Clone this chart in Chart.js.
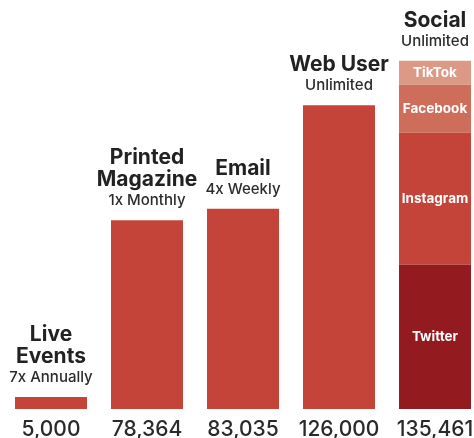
<!DOCTYPE html>
<html>
<head>
<meta charset="utf-8">
<script src="https://cdn.jsdelivr.net/npm/chart.js@4.4.1/dist/chart.umd.min.js"></script>
<style>
  html, body { margin: 0; padding: 0; background: #fff; overflow: hidden; }
  .chart-wrap { position: relative; width: 486px; height: 438px; }
</style>
</head>
<body>
<div class="chart-wrap"><canvas id="chart"></canvas></div>
<script>
const categories = ['Live Events', 'Printed Magazine', 'Email', 'Web User', 'Social'];
const titleLines = [['Live', 'Events'], ['Printed', 'Magazine'], ['Email'], ['Web User'], ['Social']];
const frequencies = ['7x Annually', '1x Monthly', '4x Weekly', 'Unlimited', 'Unlimited'];
const audience = [5000, 78364, 83035, 126000, null];
const valueLabels = ['5,000', '78,364', '83,035', '126,000', '135,461'];

// social bar split, bottom to top
const socialChannels = ['Twitter', 'Instagram', 'Facebook', 'TikTok'];
const socialValues = [59800, 54900, 19800, 10000];
const socialColors = ['#931a1f', '#c5443a', '#cf6d5b', '#dc9a86'];

const SOCIAL = categories.indexOf('Social');
const FONT = '"Inter", sans-serif';

const datasets = [
  {label: 'Audience', data: audience, backgroundColor: '#c5443a'},
  ...socialChannels.map((name, i) => ({
    label: name,
    data: categories.map((c, j) => (j === SOCIAL ? socialValues[i] : null)),
    backgroundColor: socialColors[i],
  })),
];

const barLabels = {
  id: 'barLabels',
  afterDatasetsDraw(chart) {
    const {ctx} = chart;
    ctx.save();
    ctx.textAlign = 'center';
    ctx.textBaseline = 'alphabetic';

    categories.forEach((cat, i) => {
      let top = null;
      let x = null;
      chart.data.datasets.forEach((ds, d) => {
        if (ds.data[i] == null) return;
        const el = chart.getDatasetMeta(d).data[i];
        if (top === null || el.y < top) {
          top = el.y;
          x = el.x;
        }
      });

      // total under the bar
      ctx.fillStyle = '#2a2a2a';
      ctx.font = '500 21px ' + FONT;
      ctx.fillText(valueLabels[i], x, chart.chartArea.bottom + 27);

      let y = top - 15;
      ctx.fillStyle = '#2b2b2b';
      ctx.font = '500 15px ' + FONT;
      ctx.fillText(frequencies[i], x, y);
      y -= 19;
      ctx.fillStyle = '#222222';
      ctx.font = 'bold 21px ' + FONT;
      const lines = titleLines[i];
      for (let k = lines.length - 1; k >= 0; k--) {
        ctx.fillText(lines[k], x, y);
        y -= 22;
      }
    });

    // channel names inside the social bar
    ctx.fillStyle = '#ffffff';
    ctx.font = 'bold 13.5px ' + FONT;
    ctx.textBaseline = 'middle';
    socialChannels.forEach((name, s) => {
      const el = chart.getDatasetMeta(s + 1).data[SOCIAL];
      ctx.fillText(name, el.x, (el.y + el.base) / 2);
    });
    ctx.restore();
  },
};

function draw() {
  new Chart(document.getElementById('chart'), {
    type: 'bar',
    data: {labels: categories, datasets},
    options: {
      responsive: true,
      maintainAspectRatio: false,
      animation: false,
      layout: {padding: {left: 3, right: 3, top: 0, bottom: 29}},
      datasets: {
        bar: {categoryPercentage: 1, barPercentage: 0.75, borderWidth: 0},
      },
      plugins: {
        legend: {display: false},
        tooltip: {enabled: false},
      },
      scales: {
        x: {
          stacked: true,
          display: false,
        },
        y: {
          stacked: true,
          display: false,
          min: 0,
          max: 169700,
        },
      },
    },
    plugins: [barLabels],
  });
}

Promise.all([
  document.fonts.load('bold 21px "Inter"'),
  document.fonts.load('500 15px "Inter"'),
]).then(draw, draw);
</script>
</body>
</html>
